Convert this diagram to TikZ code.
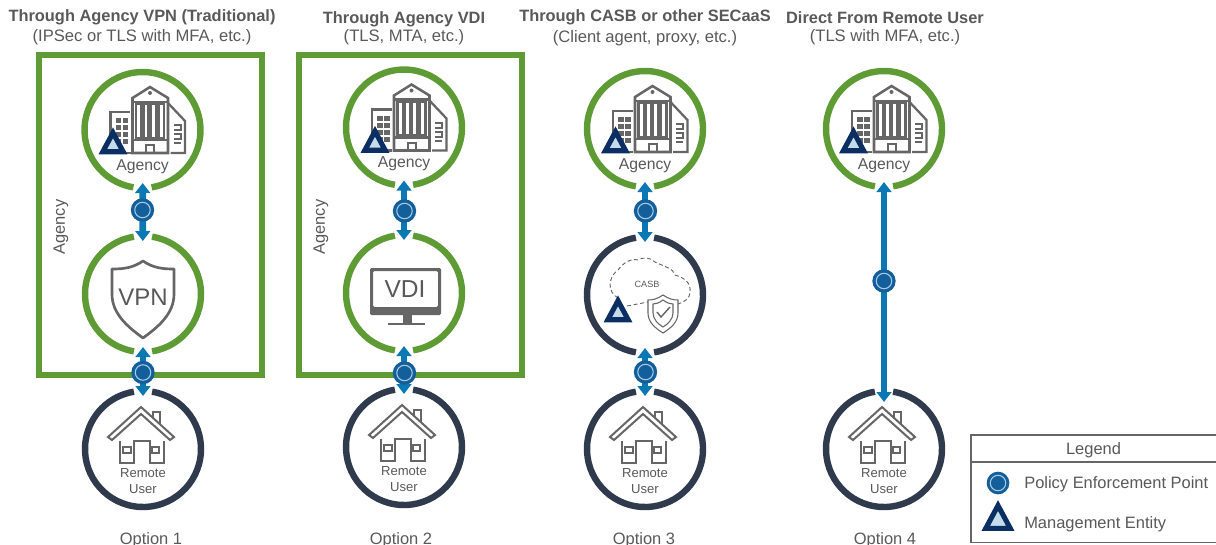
\documentclass[tikz,border=0pt]{standalone}
\usepackage{fontspec}
\setmainfont{Liberation Sans}
\usetikzlibrary{arrows.meta}
\definecolor{grn}{HTML}{5F9B35}
\definecolor{drk}{HTML}{2F3B4C}
\definecolor{arw}{HTML}{0B78B3}
\definecolor{pepf}{HTML}{135F9B}
\definecolor{pepl}{HTML}{A9C9E0}
\definecolor{navy}{HTML}{0B2E63}
\definecolor{tril}{HTML}{C5DCEB}
\definecolor{icon}{HTML}{666666}
\definecolor{txt}{HTML}{595959}
\newcommand{\fs}[1]{\fontsize{#1}{#1}\selectfont}
\tikzset{
  ringnode/.style={circle,minimum size=79.5pt,inner sep=0pt,outer sep=0pt},
  ringline/.style={line width=4.8pt,line cap=butt},
  linkline/.style={line width=5pt,draw=arw,{Triangle[width=11pt,length=7.5pt]}-{Triangle[width=11pt,length=7.5pt]}},
  boxline/.style={draw=grn,line width=4.5pt,miter limit=10},
  pepnode/.style={circle,fill=pepf,draw=pepf,minimum size=16.5pt,inner sep=0pt,line width=1pt,
    path picture={\draw[pepl,line width=.8pt] (path picture bounding box.center) circle[radius=5.8pt];}},
  ttl/.style={font=\fs{12.3}\bfseries,text=txt,inner sep=0pt},
  sub/.style={font=\fs{12.45},text=txt,inner sep=0pt},
  lab/.style={font=\fs{12.35},text=txt,inner sep=0pt},
  small/.style={font=\fs{9.8},text=txt,inner sep=0pt},
  ic/.style={draw=icon,line width=1.5pt,line join=miter},
  mgmt/.pic={\draw[navy,fill=tril,line width=3.8pt,miter limit=10] (-10.2,-2.25)--(10.2,-2.25)--(0,-21.25)--cycle;},
  agency/.pic={
    \draw[ic,line width=1.9pt] (-10,23)--(-10,-32)--(7.5,-43)--(25.5,-32)--(25.5,23)--cycle;
    \draw[ic,line width=1.9pt] (-10,-28)--(25.5,-28) (-10,10)--(25.5,10);
    \foreach \a/\b in {-6.5/-1,1/6,8/13.5,16/21.5}{\draw[ic,line width=1.7pt] (\a,-26) rectangle (\b,8);}
    \draw[ic] (3.5,23)--(3.5,15)--(11.5,15)--(11.5,23);
    \fill[icon] (7.5,-37) circle[radius=2];
    \draw[ic,line width=1.7pt] (25.5,-27)--(42.5,-9)--(42.5,23)--(28,23);
    \draw[ic] (31,-5)--(38,-5)--(38,0)--(31,0) (31,4)--(38,4)--(38,9)--(31,9) (31,13)--(38,13);
    \draw[ic,line width=1.7pt] (-12.5,-18)--(-32,-18)--(-32,5) (-12,23)--(-17,23);
    \foreach \x in {-27,-20}{\foreach \y in {-12,-5,2,9}{\fill[icon] (\x,\y) rectangle ++(5.5,5);}}
    \node[font=\fs{11.8},text=txt,inner sep=0pt] at (0,36.5) {Agency};
  },
  house/.pic={
    \draw[ic] (-35,-12)--(-2,-42)--(31,-12)--(27,-9)--(-2,-35)--(-31,-9)--cycle;
    \draw[ic] (10,-31)--(10,-37)--(17,-37)--(17,-24);
    \draw[ic,line width=1.9pt] (-23,-8)--(-23,14)--(-9,14)--(-9,-8)--(7,-8)--(7,14)--(21,14)--(21,-8);
    \draw[ic] (-20,-2) rectangle (-12,4);
    \draw[ic] (9,-2) rectangle (16,4);
  },
  vpn/.pic={
    \draw[ic,line width=2pt,line join=round] (0,-33) .. controls (-10,-26) and (-20,-25) .. (-31,-25) -- (-31,0) .. controls (-31,20) and (-15,33) .. (0,44) .. controls (15,33) and (31,20) .. (31,0) -- (31,-25) .. controls (20,-25) and (10,-26) .. (0,-33) -- cycle;
    \node[font=\fs{18},text=txt,inner sep=0pt] at (0,3) {VPN};
  },
  vdi/.pic={
    \fill[icon,rounded corners=1pt,even odd rule] (-34,-25) rectangle (37,22) (-31,-22) rectangle (34,14);
    \fill[icon] (-1,22) rectangle (8,30);
    \fill[icon] (-16,30) rectangle (21,32);
    \node[font=\fs{18.4},text=txt,inner sep=0pt] at (1,-4) {VDI};
  },
  casb/.pic={
    \draw[icon,densely dashed,line width=.7pt] (-27,3) .. controls (-38,-3) and (-37,-18) .. (-27,-25) .. controls (-22,-32) and (-14,-37) .. (-7,-35) .. controls (-2,-38) and (5,-38) .. (10,-33) .. controls (20,-28) and (28,-27) .. (30,-20) .. controls (40,-17) and (46,-12) .. (45,-3) .. controls (45,3) and (40,7) .. (33,9);
    \draw[icon,densely dashed,line width=.7pt] (-18,11) -- (3,7);
    \node[font=\fs{6.8},text=txt,inner sep=0pt] at (2,-11) {CASB};
    \draw[icon,line width=.8pt] (18,0) .. controls (12,4) and (8,5) .. (3,5) -- (3,18) .. controls (3,27) and (10,33) .. (18,38) .. controls (26,33) and (33,27) .. (33,18) -- (33,5) .. controls (28,5) and (24,4) .. (18,0) -- cycle;
    \draw[icon,line width=.8pt] (18,5) .. controls (14,8) and (11,9) .. (8,9) -- (8,18) .. controls (8,24) and (13,29) .. (18,32) .. controls (23,29) and (28,24) .. (28,18) -- (28,9) .. controls (25,9) and (22,8) .. (18,5) -- cycle;
    \draw[icon,line width=1.1pt] (12,17)--(16,22)--(25,12);
  },
}
\begin{document}
\begin{tikzpicture}[x=.75pt,y=-.75pt]
\useasboundingbox (0,0) rectangle (1216,544);
\clip (0,0) rectangle (1216,544);
% green boxes
\draw[boxline] (39,55) rectangle (262,375);
\draw[boxline] (299,55) rectangle (522,375);
% rings
\foreach \n/\x/\y in {a1/142.5/130,a2/404/127.5,a3/645/129,a4/884/129,v1/143/294,v2/404/293,c3/645/295,h1/143/449,h2/404/447,h3/645/449,h4/884/449}{
  \node[ringnode] (\n) at (\x,\y) {};
}
\foreach \n in {a1,a2,a3,a4}{\draw[ringline,grn] (\n.center) ++(99:58) arc[start angle=99,end angle=441,radius=58];}
\foreach \n in {v1,v2}{
  \draw[ringline,grn] (\n.center) ++(99:58) arc[start angle=99,end angle=261,radius=58];
  \draw[ringline,grn] (\n.center) ++(81:58) arc[start angle=81,end angle=-81,radius=58];
}
\draw[ringline,drk] (c3.center) ++(99:58) arc[start angle=99,end angle=261,radius=58];
\draw[ringline,drk] (c3.center) ++(81:58) arc[start angle=81,end angle=-81,radius=58];
\foreach \n in {h1,h2,h3,h4}{\draw[ringline,drk] (\n.center) ++(-81:58) arc[start angle=-81,end angle=261,radius=58];}
% icons
\foreach \n in {a1,a2,a3,a4}{\pic at (\n.center) {agency};}
\foreach \n in {h1,h2,h3,h4}{\pic at (\n.center) {house};
  \node[small] at ([yshift=-18pt]\n.center) {Remote};
  \node[small] at ([yshift=-30pt]\n.center) {User};}
\pic at (v1.center) {vpn};
\pic at (v2.center) {vdi};
\pic at (c3.center) {casb};
% management triangles
\foreach \x/\y in {113/154,375/152.5,615.5/153,853.5/153,618/322}{\pic at (\x,\y) {mgmt};}
% connectors
\draw[linkline] (a1) -- (v1);
\draw[linkline] (v1) -- (h1);
\draw[linkline] (a2) -- (v2);
\draw[linkline] (v2) -- (h2);
\draw[linkline] (a3) -- (c3);
\draw[linkline] (c3) -- (h3);
\draw[linkline,shorten >=-4.5pt] (a4) -- (h4);
% PEPs
\foreach \n/\x/\y in {p1/142.5/210,p2/143/372.5,p3/404.5/211,p4/404.5/373,p5/645.5/211,p6/645.5/372,p7/884/281}{
  \node[pepnode] (\n) at (\x,\y) {};
}
% headings
\node[ttl] at (142,17.5) {Through Agency VPN (Traditional)};
\node[sub] at (142,37) {(IPSec or TLS with MFA, etc.)};
\node[ttl] at (404,19.5) {Through Agency VDI};
\node[sub] at (404,37) {(TLS, MTA, etc.)};
\node[ttl] at (645,17.5) {Through CASB or other SECaaS};
\node[sub] at (645,38) {(Client agent, proxy, etc.)};
\node[ttl] at (885,17.5) {Direct From Remote User};
\node[sub] at (885,37) {(TLS with MFA, etc.)};
\node[lab,rotate=90] at (61,227) {Agency};
\node[lab,rotate=90] at (321,227) {Agency};
\foreach \x/\t in {151/Option 1,401/Option 2,644/Option 3,885/Option 4}{\node[lab] at (\x,540) {\t};}
% legend
\draw[draw=icon,line width=.8pt] (971,435) rectangle (1220,542.5);
\draw[draw=icon,line width=.8pt] (971,462) -- (1216,462);
\node[lab] at (1093.5,450) {Legend};
\node[pepnode,minimum size=16pt] (lp) at (998,483) {};
\pic[scale=1.2] at (998,531) {mgmt};
\node[lab,anchor=west] at (1024,484) {Policy Enforcement Point};
\node[lab,anchor=west] at (1024,524) {Management Entity};
\end{tikzpicture}
\end{document}
